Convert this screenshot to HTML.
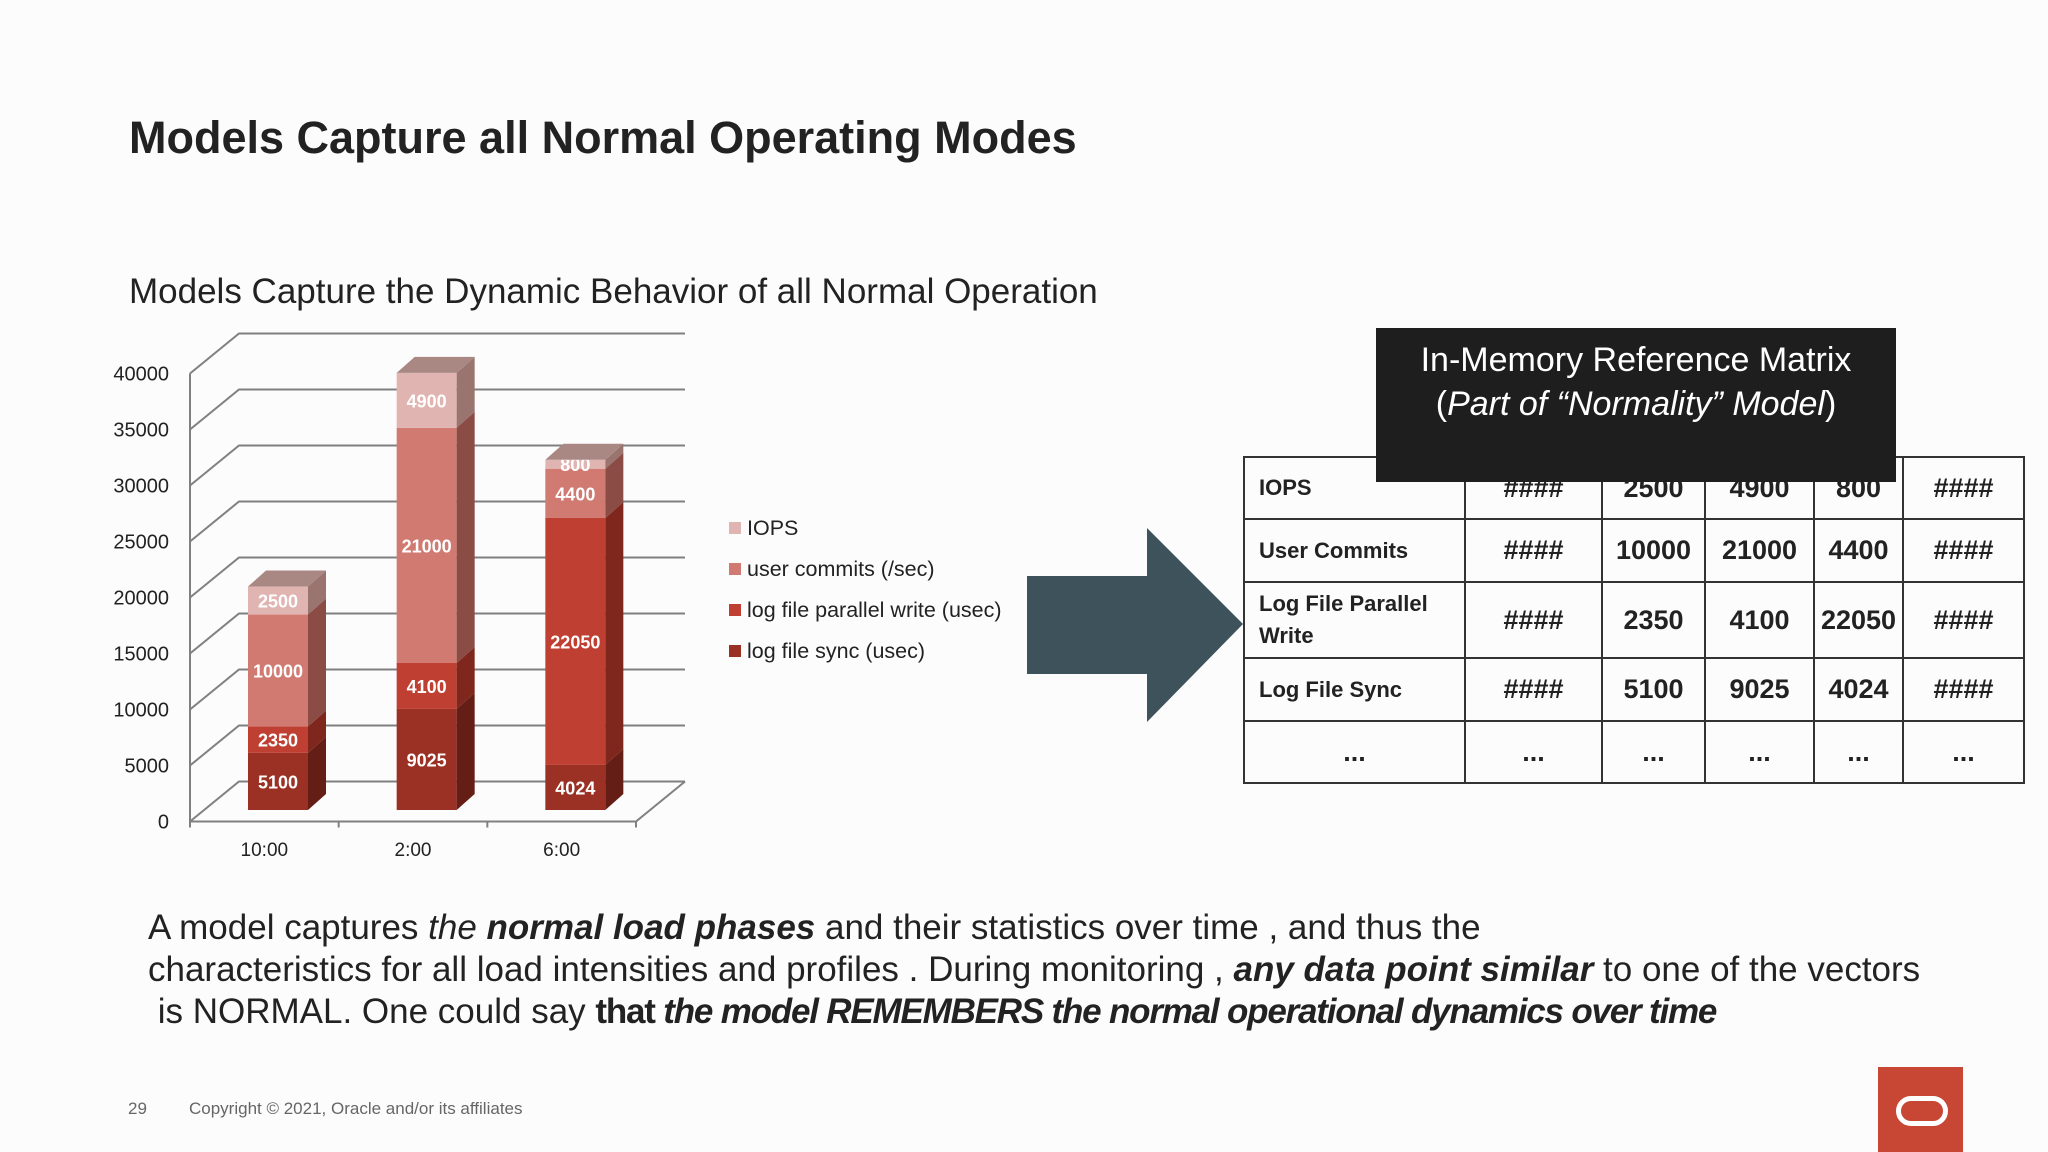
<!DOCTYPE html>
<html><head><meta charset="utf-8"><style>
body{margin:0;width:2048px;height:1152px;background:#fdfcfd;position:relative;overflow:hidden;font-family:"Liberation Sans",sans-serif;}
.abs{position:absolute;}
table{border-collapse:collapse;table-layout:fixed;}
td{border:2.5px solid #333;font-family:"Liberation Sans",sans-serif;font-weight:bold;font-size:27px;color:#222;text-align:center;padding:0;white-space:nowrap;overflow:hidden;}
td.lbl{text-align:left;padding-left:14px;font-size:22px;}
</style></head><body>
<div class="abs" style="left:129px;top:112px;font-size:45px;font-weight:bold;color:#222;">Models Capture all Normal Operating Modes</div>
<div class="abs" style="left:129px;top:272px;font-size:35px;color:#222;">Models Capture the Dynamic Behavior of all Normal Operation</div>

<svg class="abs" style="left:0;top:0" width="1020" height="900" id="chart"></svg>

<svg class="abs" style="left:0;top:0" width="2048" height="1152"><polygon points="1027,576 1147,576 1147,528 1243,624 1147,722 1147,674 1027,674" fill="#3d525b"/></svg>

<table class="abs" style="left:1243px;top:456px;width:780px;">
<colgroup><col style="width:221px"><col style="width:137px"><col style="width:103px"><col style="width:109px"><col style="width:89px"><col style="width:121px"></colgroup>
<tr style="height:62px"><td class="lbl">IOPS</td><td>####</td><td>2500</td><td>4900</td><td>800</td><td>####</td></tr>
<tr style="height:63px"><td class="lbl">User Commits</td><td>####</td><td>10000</td><td>21000</td><td>4400</td><td>####</td></tr>
<tr style="height:76px"><td class="lbl" style="line-height:32px">Log File Parallel<br>Write</td><td>####</td><td>2350</td><td>4100</td><td>22050</td><td>####</td></tr>
<tr style="height:63px"><td class="lbl">Log File Sync</td><td>####</td><td>5100</td><td>9025</td><td>4024</td><td>####</td></tr>
<tr style="height:62px"><td>...</td><td>...</td><td>...</td><td>...</td><td>...</td><td>...</td></tr>
</table>
<div class="abs" style="left:1376px;top:328px;width:520px;height:154px;background:#1e1e1e;color:#fff;text-align:center;font-size:34px;line-height:44px;padding-top:10px;box-sizing:border-box;">In-Memory Reference Matrix<br>(<i>Part of “Normality” Model</i>)</div>

<div class="abs" style="left:148px;top:907px;font-size:35px;line-height:42px;color:#222;width:1880px;white-space:nowrap;">A model captures <i>the <b>normal load phases</b></i> and their statistics over time , and thus the<br>characteristics for all load intensities and profiles . During monitoring , <b><i>any data point similar</i></b> to one of the vectors<br>&nbsp;is NORMAL. One could say <b style="letter-spacing:-1.2px">that <i>the model REMEMBERS the normal operational dynamics over time</i></b></div>

<div class="abs" style="left:128px;top:1099px;font-size:17px;color:#666;">29</div>
<div class="abs" style="left:189px;top:1099px;font-size:17px;color:#666;">Copyright © 2021, Oracle and/or its affiliates</div>
<div class="abs" style="left:1878px;top:1067px;width:85px;height:85px;background:#c74634;">
<div style="position:absolute;left:18px;top:29px;width:42px;height:20px;border:5px solid #fff;border-radius:15px;"></div></div>

<script>
const categories=["10:00","2:00","6:00"];
const seriesNames=["IOPS","user commits (/sec)","log file parallel write (usec)","log file sync (usec)"];
const iops=[2500,4900,800];
const userCommits=[10000,21000,4400];
const lfpw=[2350,4100,22050];
const lfs=[5100,9025,4024];
const yTicks=[0,5000,10000,15000,20000,25000,30000,35000,40000];
const NS="http://www.w3.org/2000/svg";
const svg=document.getElementById('chart');
function mk(t,a){const e=document.createElementNS(NS,t);for(const k in a)e.setAttribute(k,a[k]);svg.appendChild(e);return e;}
const x0=190,x1=636,yBase=821.5,ppu=56/5000,DX=49,DY=-40;
function y(v){return yBase-v*ppu;}
for(const t of yTicks){
  const g=mk('polyline',{points:`${x0},${y(t)} ${x0+DX},${y(t)+DY} ${x1+DX},${y(t)+DY}`,fill:'none',stroke:'#808080','stroke-width':2});
  
  
  const l=mk('text',{x:169,y:y(t)+7,'text-anchor':'end','font-size':20,fill:'#222','font-family':'Liberation Sans, sans-serif'});
  l.textContent=t;
  
  
}
mk('line',{x1:x0,y1:y(40000),x2:x0,y2:yBase,stroke:'#808080','stroke-width':2});
mk('polyline',{points:`${x0},${yBase} ${x1},${yBase} ${x1+DX},${yBase+DY}`,fill:'none',stroke:'#808080','stroke-width':2});
const band=(x1-x0)/categories.length;
for(let i=0;i<=categories.length;i++){mk('line',{x1:x0+band*i,y1:yBase,x2:x0+band*i,y2:yBase+6,stroke:'#808080','stroke-width':2});}
const front=["#e0b4b1","#d07a72","#bf4032","#9b3024"];
const side=["#9a7570","#8c4c46","#7f271c","#641e16"];
const series=[lfs,lfpw,userCommits,iops];
const fc=[front[3],front[2],front[1],front[0]],sc=[side[3],side[2],side[1],side[0]];
const bb=810,bw=60,dx=18,dy=-16;
categories.forEach((c,i)=>{
  const bx=x0+band*i+58;
  let acc=0;
  series.forEach((s,k)=>{
    const v=s[i];
    const yt=bb-(acc+v)*ppu, yb=bb-acc*ppu;
    const r=mk('rect',{x:bx,y:yt,width:bw,height:yb-yt,fill:fc[k]});
    
    
    mk('polygon',{points:`${bx+bw},${yt} ${bx+bw+dx},${yt+dy} ${bx+bw+dx},${yb+dy} ${bx+bw},${yb}`,fill:sc[k]});
    const t=mk('text',{x:bx+bw/2,y:(yt+yb)/2+7,'text-anchor':'middle','font-size':18,'font-weight':'bold',fill:'#fff','font-family':'Liberation Sans, sans-serif'});
    t.textContent=v;
    
    
    acc+=v;
  });
  const yt=bb-acc*ppu;
  mk('polygon',{points:`${bx},${yt} ${bx+dx},${yt+dy} ${bx+bw+dx},${yt+dy} ${bx+bw},${yt}`,fill:'#a98884'});
  const l=mk('text',{x:x0+band*(i+0.5),y:856,'text-anchor':'middle','font-size':19,fill:'#222','font-family':'Liberation Sans, sans-serif'});
  l.textContent=c;
  
  
});
seriesNames.forEach((n,k)=>{
  const yy=528+41*k;
  const r=mk('rect',{x:729,y:yy-6,width:12,height:12,fill:front[k]});
  
  
  const t=mk('text',{x:747,y:yy+7,'font-size':21.5,fill:'#222','font-family':'Liberation Sans, sans-serif'});
  t.textContent=n;
  
  
});
</script>
</body></html>
